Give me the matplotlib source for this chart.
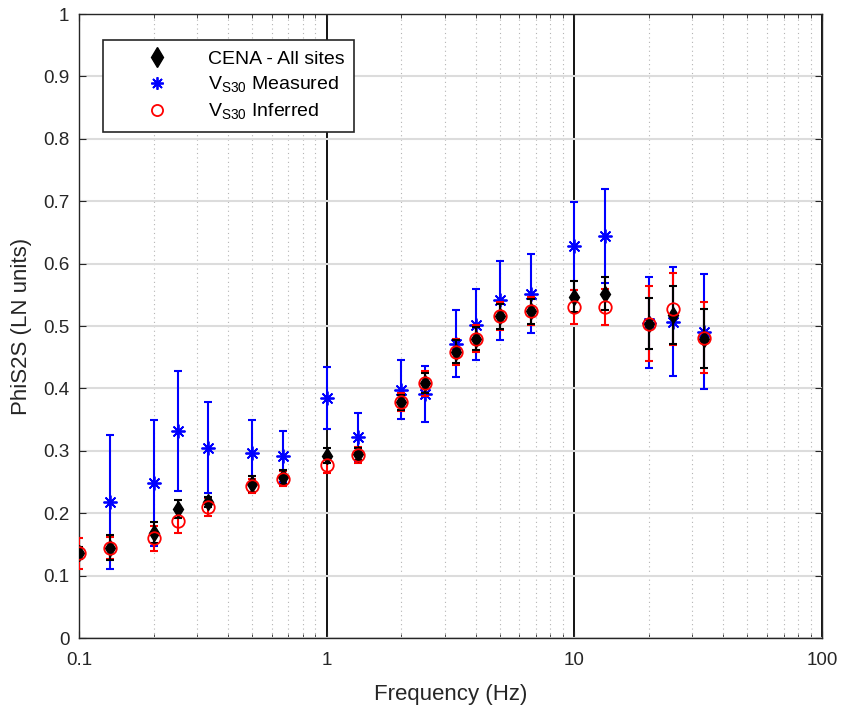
import numpy as np
import matplotlib
matplotlib.use("Agg")
import matplotlib.pyplot as plt
from matplotlib.lines import Line2D
from matplotlib.ticker import LogLocator, NullFormatter

plt.rcParams['font.family'] = ['Liberation Sans', 'DejaVu Sans']

freq = [0.1, 0.1333, 0.2, 0.25, 0.3333, 0.5, 0.6667, 1.0, 1.3333, 2.0, 2.5,
        3.3333, 4.0, 5.0, 6.6667, 10.0, 13.333, 20.0, 25.0, 33.333]

cena_val = [0.136, 0.145, 0.169, 0.207, 0.218, 0.247, 0.258, 0.292, 0.295, 0.378, 0.408,
            0.459, 0.480, 0.516, 0.524, 0.547, 0.552, 0.504, 0.518, 0.480]
cena_err = [0.010, 0.020, 0.017, 0.015, 0.008, 0.013, 0.011, 0.012, 0.010, 0.012, 0.016,
            0.018, 0.018, 0.020, 0.020, 0.025, 0.026, 0.041, 0.046, 0.048]

meas_val = [np.nan, 0.218, 0.248, 0.332, 0.305, 0.297, 0.291, 0.385, 0.322, 0.398, 0.391,
            0.472, 0.502, 0.541, 0.552, 0.628, 0.644, 0.505, 0.507, 0.491]
meas_err = [np.nan, 0.108, 0.101, 0.096, 0.073, 0.052, 0.041, 0.050, 0.038, 0.047, 0.045,
            0.054, 0.057, 0.063, 0.063, 0.070, 0.075, 0.073, 0.087, 0.092]

inf_val = [0.136, 0.144, 0.160, 0.187, 0.210, 0.244, 0.255, 0.277, 0.293, 0.378, 0.408,
           0.459, 0.480, 0.516, 0.524, 0.531, 0.531, 0.504, 0.527, 0.481]
inf_err = [0.025, 0.018, 0.020, 0.019, 0.014, 0.011, 0.012, 0.013, 0.013, 0.014, 0.020,
           0.021, 0.021, 0.022, 0.023, 0.027, 0.029, 0.060, 0.058, 0.057]

labels = ['CENA - All sites', r'V$_{\mathregular{S30}}$ Measured', r'V$_{\mathregular{S30}}$ Inferred']
ytick_vals = [0, 0.1, 0.2, 0.3, 0.4, 0.5, 0.6, 0.7, 0.8, 0.9, 1.0]
ytick_labels = ['0', '0.1', '0.2', '0.3', '0.4', '0.5', '0.6', '0.7', '0.8', '0.9', '1']
xtick_vals = [0.1, 1, 10, 100]
xtick_labels = ['0.1', '1', '10', '100']

fig = plt.figure(figsize=(8.44, 7.09), dpi=100)
ax = fig.add_axes([0.0936, 0.1001, 0.8803, 0.8801])

asterisk = (8, 2, 0)
ax.errorbar(freq, meas_val, yerr=meas_err, fmt='none', ecolor='#0000ff', elinewidth=1.5,
            capsize=3, capthick=1.5, zorder=3)
ax.plot(freq, meas_val, linestyle='none', marker=asterisk, color='#0000ff', markersize=10,
        markeredgewidth=1.3, zorder=3.1)
ax.errorbar(freq, inf_val, yerr=inf_err, fmt='none', ecolor='#ff0000', elinewidth=1.5,
            capsize=3, capthick=1.5, zorder=4)
ax.errorbar(freq, cena_val, yerr=cena_err, fmt='none', ecolor='black', elinewidth=1.5,
            capsize=3, capthick=1.5, zorder=5)
ax.plot(freq, cena_val, linestyle='none', marker='d', color='black', markersize=8, zorder=5.1)
ax.plot(freq, inf_val, linestyle='none', marker='o', markerfacecolor='none',
        markeredgecolor='#ff0000', markersize=9, markeredgewidth=1.3, zorder=5.2)

ax.set_xscale('log')
ax.set_xlim(0.1, 100)
ax.set_ylim(0, 1)
ax.set_yticks(ytick_vals)
ax.set_yticklabels(ytick_labels)
ax.set_xticks(xtick_vals)
ax.set_xticklabels(xtick_labels)
ax.xaxis.set_minor_locator(LogLocator(base=10, subs=np.arange(2, 10), numticks=20))
ax.xaxis.set_minor_formatter(NullFormatter())

ax.grid(True, which='major', axis='y', color='#dcdcdc', linewidth=1.5, linestyle='-')
ax.grid(True, which='major', axis='x', color='black', linewidth=1.3, linestyle='-')
ax.grid(True, which='minor', axis='x', color='#b4b4b4', linewidth=0.8, linestyle=(0, (1, 3)))
ax.set_axisbelow(True)

ax.tick_params(which='both', direction='in', labelsize=13.6, colors='#262626', top=True, right=True)
ax.tick_params(which='major', length=5)
ax.tick_params(which='minor', length=3)
ax.tick_params(axis='x', which='major', pad=10)
ax.tick_params(axis='y', which='major', pad=7)
for s in ax.spines.values():
    s.set_color('#262626')
    s.set_linewidth(1.0)

ax.set_xlabel('Frequency (Hz)', fontsize=16, color='#262626', labelpad=11)
ax.set_ylabel('PhiS2S (LN units)', fontsize=16, color='#262626', labelpad=8)

handles = [Line2D([], [], linestyle='none', marker='d', color='black', markersize=10),
           Line2D([], [], linestyle='none', marker=asterisk, color='#0000ff', markersize=9,
                  markeredgewidth=1.3),
           Line2D([], [], linestyle='none', marker='o', markerfacecolor='none',
                  markeredgecolor='#ff0000', markersize=8, markeredgewidth=1.3)]
leg = ax.legend(handles, labels, loc='upper left', bbox_to_anchor=(0.0323, 0.958),
                borderaxespad=0, fontsize=14, frameon=True, fancybox=False,
                edgecolor='#262626', framealpha=1, handlelength=4.6, handletextpad=0.3,
                borderpad=0.5, labelspacing=0.35)
leg.get_frame().set_linewidth(1.2)

fig.savefig('out.png', dpi=100)
